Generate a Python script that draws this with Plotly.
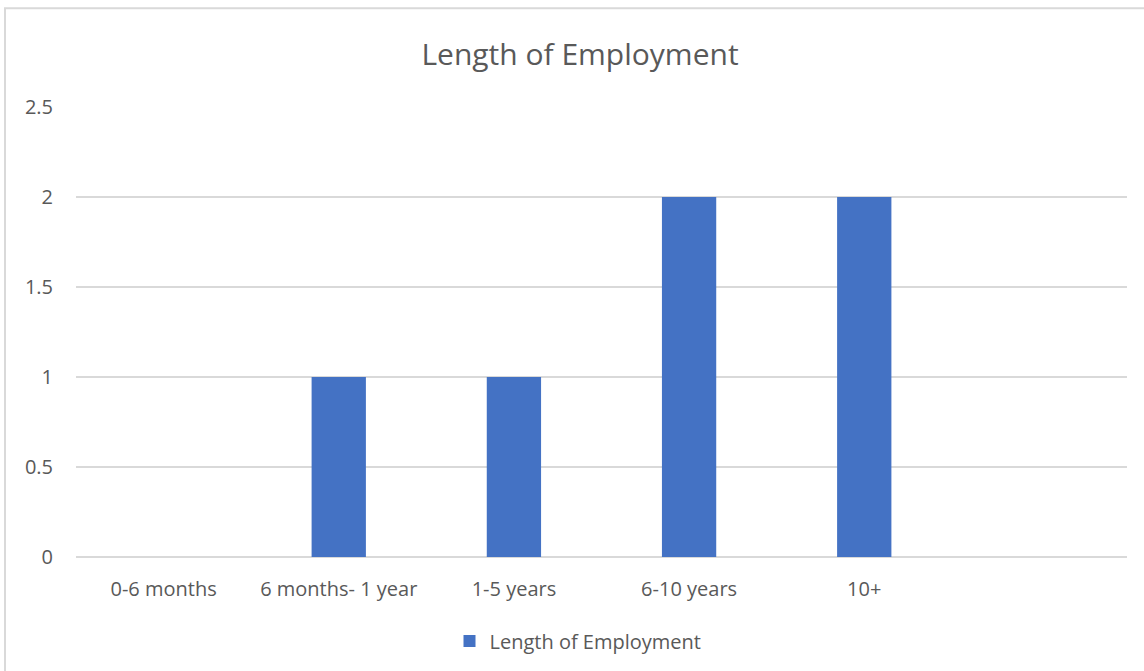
import plotly.graph_objects as go

categories = ["0-6 months", "6 months- 1 year", "1-5 years", "6-10 years", "10+", " "]
values = [0, 1, 1, 2, 2, None]
tick_vals = [0, 0.5, 1, 1.5, 2, 2.5]
tick_text = ["0", "0.5", "1", "1.5", "2", "2.5"]
series_name = "Length of Employment"
title_text = "Length of Employment"

W, H = 1144, 671
L, R, T, B = 76, 17, 107, 113
pw = W - L - R
ph = H - T - B

def px_x(x):
    return (x - L) / pw

def px_y(y):
    return (H - B - y) / ph

font_family = "Open Sans, Liberation Sans, sans-serif"
gray = "#595959"

fig = go.Figure()
fig.add_trace(go.Bar(
    x=categories, y=values, name=series_name,
    marker=dict(color="#4472C4", line=dict(width=0)),
    showlegend=True,
))

fig.update_layout(
    width=W, height=H,
    margin=dict(l=L, r=R, t=T, b=B),
    paper_bgcolor="white", plot_bgcolor="white",
    bargap=0.69,
    font=dict(family=font_family, color=gray, size=20),
    title=dict(text=title_text, x=580 / W, xanchor="center", y=1 - 54 / H, yanchor="middle",
               font=dict(size=30, color=gray, family=font_family)),
    legend=dict(orientation="h", x=px_x(578), xanchor="center", y=px_y(641), yanchor="middle",
                font=dict(size=20, color=gray), itemwidth=30),
    xaxis=dict(showgrid=False, showline=False, ticks="", tickfont=dict(size=20, color=gray),
               ticklabelstandoff=18),
    yaxis=dict(range=[0, 2.5], tickvals=tick_vals, ticktext=tick_text,
               showgrid=True, gridcolor="#d9d9d9", gridwidth=1.5,
               zeroline=True, zerolinecolor="#d9d9d9", zerolinewidth=1.5,
               showline=False, ticks="", tickfont=dict(size=20, color=gray),
               ticklabelstandoff=22),
    shapes=[dict(type="rect", xref="paper", yref="paper",
                 x0=px_x(5), x1=px_x(W + 20), y0=px_y(H + 20), y1=px_y(8),
                 line=dict(color="#d9d9d9", width=2), fillcolor="rgba(0,0,0,0)", layer="below")],
)

fig.write_html("out.html")
